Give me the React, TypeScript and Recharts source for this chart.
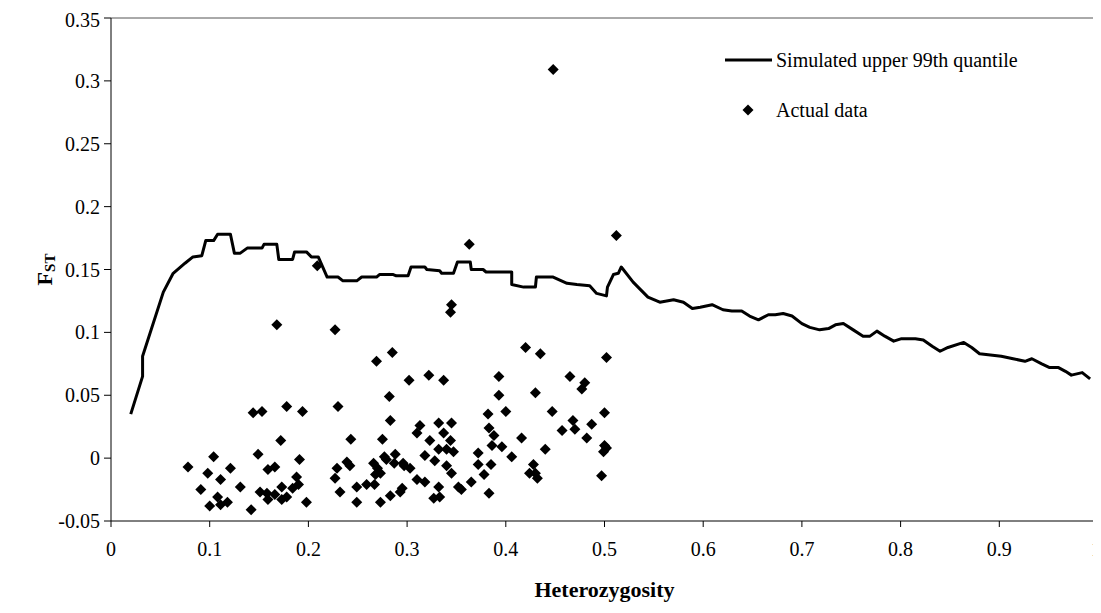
import React from 'react';
import { ScatterChart, Scatter, XAxis, YAxis, ReferenceLine, Legend } from 'recharts';

const FONT = '"Liberation Serif", "Times New Roman", serif';

const X_TICKS = [0, 0.1, 0.2, 0.3, 0.4, 0.5, 0.6, 0.7, 0.8, 0.9, 1];
const Y_TICKS = [-0.05, 0, 0.05, 0.1, 0.15, 0.2, 0.25, 0.3, 0.35];

// simulated upper 99th quantile: [heterozygosity, Fst]
const quantileLine: [number, number][] = [
  [0.02, 0.035], [0.032, 0.065], [0.032, 0.081], [0.053, 0.132], [0.063, 0.147], [0.075, 0.155],
  [0.083, 0.16], [0.092, 0.161], [0.096, 0.173], [0.104, 0.173], [0.108, 0.178], [0.121, 0.178],
  [0.125, 0.163], [0.131, 0.163], [0.138, 0.167], [0.153, 0.167], [0.155, 0.17], [0.168, 0.17],
  [0.17, 0.158], [0.184, 0.158], [0.186, 0.164], [0.198, 0.164], [0.203, 0.16], [0.21, 0.16],
  [0.219, 0.144], [0.23, 0.144], [0.235, 0.141], [0.249, 0.141], [0.254, 0.144], [0.269, 0.144],
  [0.272, 0.146], [0.286, 0.146], [0.289, 0.145], [0.301, 0.145], [0.304, 0.152], [0.318, 0.152],
  [0.32, 0.15], [0.333, 0.149], [0.335, 0.147], [0.347, 0.147], [0.351, 0.156], [0.364, 0.156],
  [0.365, 0.15], [0.377, 0.15], [0.38, 0.148], [0.406, 0.148], [0.406, 0.138], [0.418, 0.136],
  [0.43, 0.136], [0.431, 0.144], [0.448, 0.144], [0.462, 0.139], [0.472, 0.138], [0.485, 0.137],
  [0.492, 0.131], [0.502, 0.129], [0.503, 0.136], [0.509, 0.146], [0.514, 0.147], [0.517, 0.152],
  [0.529, 0.14], [0.544, 0.128], [0.556, 0.124], [0.57, 0.126], [0.58, 0.124], [0.589, 0.119],
  [0.597, 0.12], [0.609, 0.122], [0.62, 0.118], [0.629, 0.117], [0.639, 0.117], [0.647, 0.113],
  [0.656, 0.11], [0.666, 0.114], [0.673, 0.114], [0.681, 0.115], [0.69, 0.113], [0.7, 0.107],
  [0.708, 0.104], [0.718, 0.102], [0.727, 0.103], [0.734, 0.106], [0.742, 0.107], [0.752, 0.102],
  [0.762, 0.097], [0.769, 0.097], [0.776, 0.101], [0.784, 0.097], [0.793, 0.093], [0.801, 0.095],
  [0.815, 0.095], [0.823, 0.094], [0.832, 0.089], [0.84, 0.085], [0.848, 0.088], [0.864, 0.092],
  [0.872, 0.088], [0.88, 0.083], [0.891, 0.082], [0.902, 0.081], [0.914, 0.079], [0.926, 0.077],
  [0.933, 0.079], [0.943, 0.075], [0.951, 0.072], [0.96, 0.072], [0.967, 0.069], [0.973, 0.066],
  [0.984, 0.068], [0.992, 0.063],
];

// actual data points: [heterozygosity, Fst]
const actualData: [number, number][] = [
  [0.078, -0.007], [0.091, -0.025], [0.098, -0.012], [0.104, 0.001], [0.1, -0.038], [0.108, -0.031],
  [0.111, -0.017], [0.111, -0.037], [0.118, -0.035], [0.121, -0.008], [0.131, -0.023], [0.142, -0.041],
  [0.144, 0.036], [0.153, 0.037], [0.149, 0.003], [0.151, -0.027], [0.159, -0.009], [0.158, -0.028],
  [0.159, -0.033], [0.166, -0.007], [0.166, -0.029], [0.173, -0.023], [0.173, -0.033], [0.178, 0.041],
  [0.172, 0.014], [0.178, -0.031], [0.184, -0.024], [0.188, -0.015], [0.191, -0.001], [0.19, -0.021],
  [0.194, 0.037], [0.198, -0.035], [0.23, 0.041], [0.227, -0.016], [0.229, -0.008], [0.232, -0.027],
  [0.239, -0.003], [0.243, 0.015], [0.242, -0.006],
  [0.209, 0.153], [0.168, 0.106], [0.227, 0.102], [0.269, 0.077], [0.285, 0.084], [0.302, 0.062],
  [0.282, 0.049], [0.322, 0.066], [0.337, 0.062], [0.393, 0.065], [0.393, 0.05], [0.283, 0.03],
  [0.275, 0.015], [0.313, 0.026], [0.31, 0.02], [0.332, 0.028], [0.345, 0.028], [0.337, 0.02],
  [0.344, 0.014], [0.323, 0.014], [0.332, 0.007], [0.34, 0.007], [0.347, 0.005], [0.382, 0.035],
  [0.4, 0.037], [0.383, 0.024], [0.388, 0.018], [0.386, 0.01], [0.396, 0.009], [0.416, 0.016],
  [0.406, 0.001], [0.372, 0.004], [0.372, -0.005], [0.385, -0.005], [0.378, -0.013], [0.383, -0.028],
  [0.365, -0.019], [0.355, -0.025], [0.352, -0.023], [0.345, -0.012], [0.34, -0.006], [0.328, -0.002],
  [0.318, 0.002], [0.332, -0.023], [0.327, -0.032], [0.333, -0.031], [0.318, -0.019], [0.31, -0.017],
  [0.295, -0.024], [0.293, -0.027], [0.283, -0.03], [0.273, -0.035], [0.249, -0.035], [0.249, -0.023],
  [0.259, -0.021], [0.267, -0.021], [0.268, -0.013], [0.27, -0.008], [0.266, -0.004], [0.273, -0.012],
  [0.279, -0.001], [0.277, 0.001], [0.288, 0.003], [0.287, -0.004], [0.297, -0.006], [0.303, -0.008],
  [0.296, -0.004],
  [0.363, 0.17], [0.512, 0.177], [0.345, 0.122], [0.344, 0.116], [0.448, 0.309],
  [0.42, 0.088], [0.435, 0.083], [0.43, 0.052], [0.428, -0.005], [0.43, -0.012], [0.432, -0.016],
  [0.44, 0.007], [0.447, 0.037], [0.457, 0.022], [0.465, 0.065], [0.468, 0.03], [0.47, 0.023],
  [0.477, 0.055], [0.48, 0.06], [0.482, 0.016], [0.487, 0.027], [0.497, -0.014], [0.5, 0.036],
  [0.5, 0.01], [0.499, 0.005], [0.502, 0.008], [0.502, 0.08], [0.424, -0.012],
];

const lineData = quantileLine.map(([x, y]) => ({ x, y }));
const pointData = actualData.map(([x, y]) => ({ x, y }));

const Diamond = (props: any) => {
  const { cx, cy } = props;
  const r = 5.5;
  return <path d={`M${cx},${cy - r}L${cx + r},${cy}L${cx},${cy + r}L${cx - r},${cy}Z`} fill="#000" />;
};

const NoDot = () => <g />;

const FstLabel = (props: any) => {
  const vb = props.viewBox || { x: 0, y: 0, width: 0, height: 0 };
  const cy = vb.y + vb.height / 2;
  const cx = 44;
  return (
    <text
      x={cx}
      y={cy}
      transform={`rotate(-90, ${cx}, ${cy})`}
      textAnchor="middle"
      fontFamily={FONT}
      fontWeight="bold"
      fill="#000"
    >
      <tspan fontSize={22}>F</tspan>
      <tspan fontSize={15} dy={3}>ST</tspan>
    </text>
  );
};

const renderLegend = () => (
  <div style={{ fontFamily: FONT, fontSize: 20, color: '#000', lineHeight: '24px' }}>
    <div style={{ display: 'flex', alignItems: 'center', height: 24 }}>
      <svg width={47} height={10}>
        <line x1={0} y1={5} x2={47} y2={5} stroke="#000" strokeWidth={3} />
      </svg>
      <span style={{ marginLeft: 4 }}>Simulated upper 99th quantile</span>
    </div>
    <div style={{ display: 'flex', alignItems: 'center', height: 24, marginTop: 26 }}>
      <svg width={47} height={14}>
        <path d="M23,1.5L28.5,7L23,12.5L17.5,7Z" fill="#000" />
      </svg>
      <span style={{ marginLeft: 4 }}>Actual data</span>
    </div>
  </div>
);

export default function App() {
  return (
    <ScatterChart width={1093} height={600} margin={{ top: 10, right: 3, left: 0, bottom: 0 }}>
      <XAxis
        type="number"
        dataKey="x"
        domain={[0, 1]}
        ticks={X_TICKS}
        height={87}
        stroke="#000"
        tickSize={6}
        tickMargin={15}
        tick={{ fill: '#000', fontSize: 20, fontFamily: FONT }}
        label={{
          value: 'Heterozygosity',
          position: 'insideBottom',
          offset: 11,
          fill: '#000',
          fontSize: 22,
          fontWeight: 'bold',
          fontFamily: FONT,
        }}
      />
      <YAxis
        type="number"
        dataKey="y"
        domain={[-0.05, 0.35]}
        ticks={Y_TICKS}
        width={103}
        stroke="#000"
        tickSize={7}
        tickMargin={4}
        tick={{ fill: '#000', fontSize: 20, fontFamily: FONT }}
        label={<FstLabel />}
      />
      <ReferenceLine y={0.35} stroke="#555" strokeWidth={1} />
      <ReferenceLine x={1} stroke="#333" strokeWidth={1} />
      <Scatter
        name="Simulated upper 99th quantile"
        data={lineData}
        line={{ stroke: '#000', strokeWidth: 3, fill: 'none', strokeLinejoin: 'round' }}
        shape={NoDot}
        isAnimationActive={false}
      />
      <Scatter name="Actual data" data={pointData} shape={Diamond} fill="#000" isAnimationActive={false} />
      <Legend
        layout="vertical"
        align="center"
        verticalAlign="middle"
        content={renderLegend}
        wrapperStyle={{ position: 'absolute', left: 717, top: 40, width: 360 }}
      />
    </ScatterChart>
  );
}
